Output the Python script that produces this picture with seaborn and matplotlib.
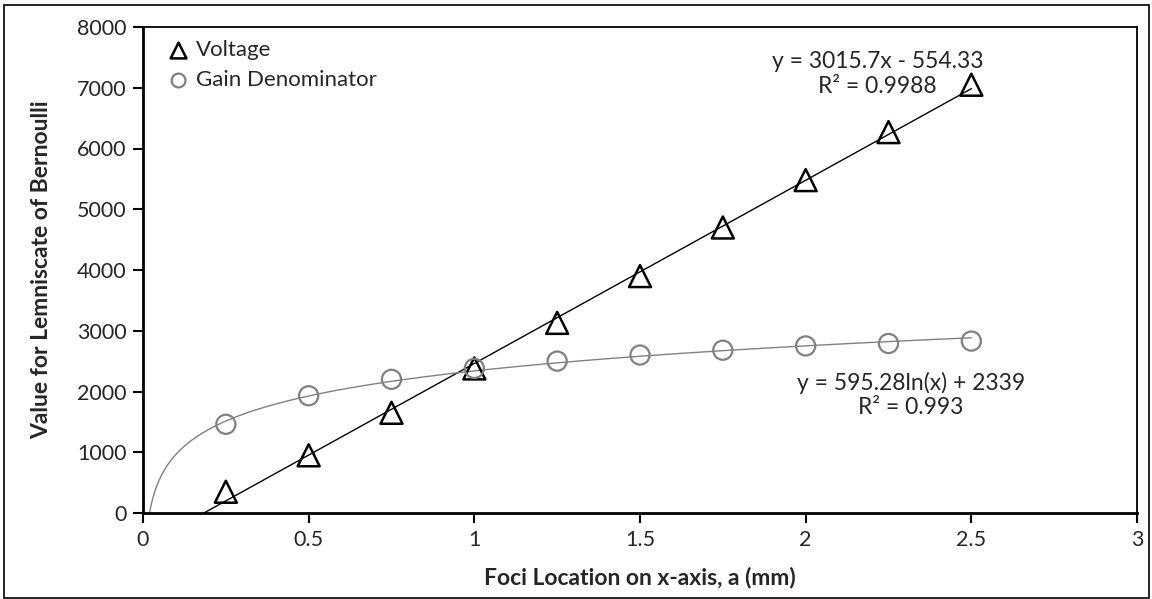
import numpy as np
import pandas as pd
import matplotlib
matplotlib.use("Agg")
import matplotlib.pyplot as plt
import seaborn as sns
from matplotlib.patches import Rectangle

# ---- data ----
x_vals = [0.25, 0.5, 0.75, 1.0, 1.25, 1.5, 1.75, 2.0, 2.25, 2.5]
voltage = [350, 950, 1650, 2380, 3130, 3900, 4700, 5480, 6270, 7050]
gain_den = [1460, 1930, 2200, 2380, 2500, 2600, 2680, 2750, 2790, 2830]
lin_slope, lin_icpt = 3015.7, -554.33
log_coef, log_icpt = 595.28, 2339.0
lin_label = "y = 3015.7x - 554.33\nR² = 0.9988"
log_label = "y = 595.28ln(x) + 2339\nR² = 0.993"
x_ticks = [0, 0.5, 1, 1.5, 2, 2.5, 3]
x_tick_labels = ["0", "0.5", "1", "1.5", "2", "2.5", "3"]
y_ticks = [0, 1000, 2000, 3000, 4000, 5000, 6000, 7000, 8000]

sns.set_theme(style="white")
plt.rcParams['font.family'] = ['Lato', 'DejaVu Sans']

fig = plt.figure(figsize=(11.52, 5.99), dpi=100)
ax = fig.add_axes([143/1152, 86/599, (1137-143)/1152, (513-27)/599])

df = pd.DataFrame({"x": x_vals, "Voltage": voltage, "Gain Denominator": gain_den})

# trend lines
x0_lin = -lin_icpt / lin_slope
xl = np.linspace(x0_lin, 2.5, 50)
lin_df = pd.DataFrame({"x": xl, "y": lin_slope * xl + lin_icpt})
x0_log = np.exp(-log_icpt / log_coef)
xg = np.geomspace(x0_log, 2.5, 400)
log_df = pd.DataFrame({"x": xg, "y": log_coef * np.log(xg) + log_icpt})
sns.lineplot(data=lin_df, x="x", y="y", ax=ax, color="black", lw=1.0, zorder=2)
sns.lineplot(data=log_df, x="x", y="y", ax=ax, color="#808080", lw=1.0, zorder=2)

sns.scatterplot(data=df, x="x", y="Voltage", ax=ax, marker="^", s=250,
                facecolor="none", edgecolor="black", linewidth=1.8, zorder=3,
                label="Voltage")
sns.scatterplot(data=df, x="x", y="Gain Denominator", ax=ax, marker="o", s=190,
                facecolor="none", edgecolor="#808080", linewidth=1.6, zorder=3,
                label="Gain Denominator")

ax.set_xlim(0, 3)
ax.set_ylim(0, 8000)
ax.set_xticks(x_ticks)
ax.set_xticklabels(x_tick_labels)
ax.set_yticks(y_ticks)
ax.tick_params(axis="both", direction="out", length=7, width=1.5, color="black",
               labelsize=15.5, pad=5, bottom=True, left=True)
for side in ["left", "bottom"]:
    ax.spines[side].set_linewidth(2.0)
for side in ["top", "right"]:
    ax.spines[side].set_linewidth(1.3)
for s in ax.spines.values():
    s.set_color("black")
ax.set_xlabel("Foci Location on x-axis, a (mm)", fontsize=16.5, fontweight="bold", labelpad=12)
ax.set_ylabel("Value for Lemniscate of Bernoulli", fontsize=16.5, fontweight="bold", labelpad=18)

leg = ax.legend(loc="upper left", frameon=False, fontsize=16, handletextpad=-0.2,
                markerscale=0.72, borderaxespad=0.2, bbox_to_anchor=(0.0, 1.0),
                labelspacing=0.45)

ax.text(2.217, 7226, lin_label, ha="center", va="center", fontsize=16.5, linespacing=1.2)
ax.text(2.317, 1942, log_label, ha="center", va="center", fontsize=16.5, linespacing=1.2)

fig.patches.append(Rectangle((4/1152, 1/599), 1145/1152, 593/599, transform=fig.transFigure,
                             fill=False, edgecolor="black", lw=1.2))

fig.savefig("out.png", dpi=100)
